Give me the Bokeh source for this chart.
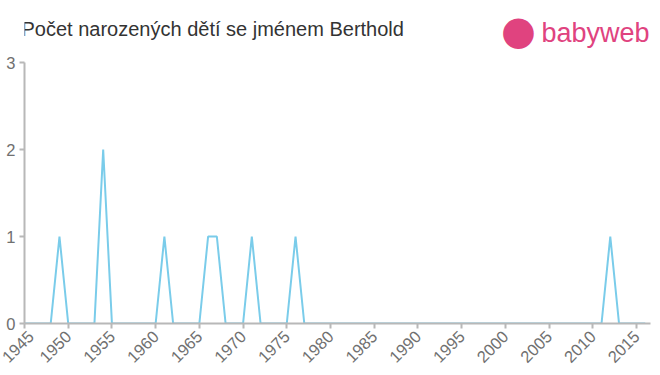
import math
from bokeh.plotting import figure
from bokeh.models import Range1d, FixedTicker, Label
from bokeh.embed import file_html
from bokeh.resources import INLINE

years = list(range(1945, 2017))
counts = [0, 0, 0, 0, 1, 0, 0, 0, 0, 2,   # 1945-1954
          0, 0, 0, 0, 0, 0, 1, 0, 0, 0,   # 1955-1964
          0, 1, 1, 0, 0, 0, 1, 0, 0, 0,   # 1965-1974
          0, 1, 0, 0, 0, 0, 0, 0, 0, 0,   # 1975-1984
          0, 0, 0, 0, 0, 0, 0, 0, 0, 0,   # 1985-1994
          0, 0, 0, 0, 0, 0, 0, 0, 0, 0,   # 1995-2004
          0, 0, 0, 0, 0, 0, 0, 1, 0, 0,   # 2005-2014
          0, 0]                           # 2015-2016
x_ticks = [1945, 1950, 1955, 1960, 1965, 1970, 1975, 1980, 1985, 1990,
           1995, 2000, 2005, 2010, 2015]
y_ticks = [0, 1, 2, 3]
title_text = "Počet narozených dětí se jménem Berthold"

# frame covers the header area too so the header labels are not clipped
p = figure(frame_width=626, frame_height=323, output_backend="svg", toolbar_location=None,
           x_range=Range1d(1945, 2016.6), y_range=Range1d(0, 3.713),
           min_border_left=24, min_border_right=10, min_border_top=0, min_border_bottom=52)
p.outline_line_color = None
p.xgrid.grid_line_color = None
p.ygrid.grid_line_color = None

p.line(years, counts, line_color="#7accea", line_width=2)

axis_col = "#b8b8b8"
lab_col = "#707070"
for ax in (p.xaxis[0], p.yaxis[0]):
    ax.axis_line_color = axis_col
    ax.axis_line_width = 2
    ax.major_tick_line_color = axis_col
    ax.major_tick_line_width = 2
    ax.minor_tick_line_color = None
    ax.major_tick_in = 0
    ax.major_tick_out = 5
    ax.major_label_text_color = lab_col
    ax.major_label_text_font = "Liberation Sans"
    ax.major_label_text_font_size = "16.5px"

p.xaxis[0].ticker = FixedTicker(ticks=x_ticks)
p.yaxis[0].ticker = FixedTicker(ticks=y_ticks)
p.yaxis[0].bounds = (0, 3)
p.xaxis[0].major_label_orientation = math.pi / 4
p.xaxis[0].major_label_standoff = 5
p.yaxis[0].major_label_standoff = 4

# annotations are positioned relative to the frame's bottom-left corner
p.add_layout(Label(x=-3, y=295, x_units="screen", y_units="screen",
                   text=title_text, text_font="Liberation Sans",
                   text_baseline="alphabetic",
                   text_font_size="20px", text_color="#333333"))
p.add_layout(Label(x=494, y=294, x_units="screen", y_units="screen",
                   text="●", text_font="DejaVu Sans", text_align="center",
                   text_baseline="middle",
                   text_font_size="40px", text_color="#e0437f"))
p.add_layout(Label(x=517, y=291, x_units="screen", y_units="screen",
                   text="babyweb", text_font="Liberation Sans",
                   text_baseline="alphabetic",
                   text_font_size="27px", text_color="#e0437f"))

open("out.html", "w").write(file_html(p, INLINE))
